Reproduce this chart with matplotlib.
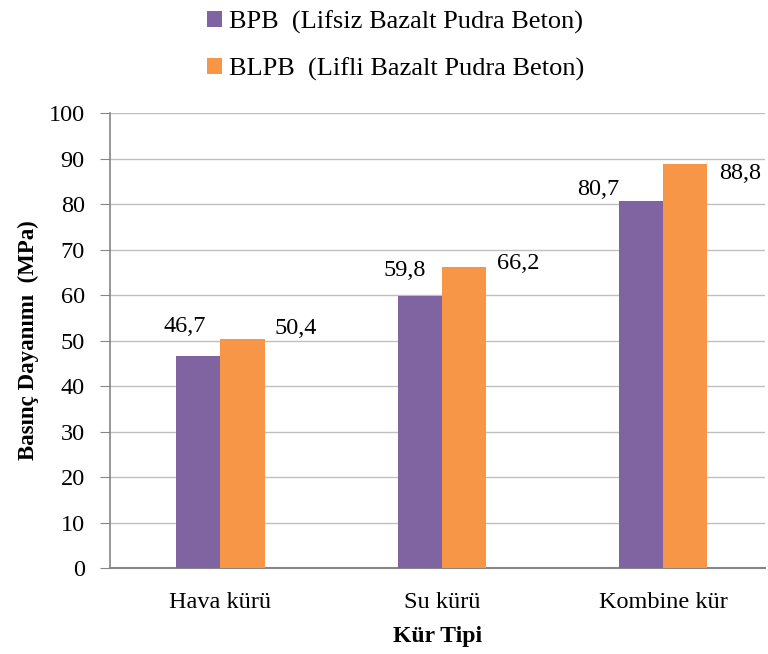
import numpy as np
import matplotlib.pyplot as plt

plt.rcParams['font.family'] = ['Liberation Serif', 'DejaVu Serif']

categories = ['Hava kürü', 'Su kürü', 'Kombine kür']
bpb = [46.7, 59.8, 80.7]
blpb = [50.4, 66.2, 88.8]
series_names = ['BPB  (Lifsiz Bazalt Pudra Beton)', 'BLPB  (Lifli Bazalt Pudra Beton)']

# label nudges in pixels (dx, dy), like the hand placed labels of the original
bpb_label_shift = [(-14, 29), (-15, 25), (-43, 11)]
blpb_label_shift = [(10, 10), (11, 3), (12, -9)]

purple = '#8064A2'
orange = '#F79646'

fig = plt.figure(figsize=(7.68, 6.54), dpi=100)
ax = fig.add_axes([0.143, 0.1315, 0.853, 0.6955])

x = np.arange(len(categories))
w = 0.2
b1 = ax.bar(x - w / 2, bpb, w, color=purple, label=series_names[0], zorder=3)
b2 = ax.bar(x + w / 2, blpb, w, color=orange, label=series_names[1], zorder=3)

px = 72 / fig.dpi
for xi, v, (dx, dy) in zip(x, bpb, bpb_label_shift):
    ax.annotate(f'{v:.1f}'.replace('.', ','), (xi - w / 2, v), xytext=(dx * px, dy * px),
                textcoords='offset points', ha='center', va='center', fontsize=17.5)
for xi, v, (dx, dy) in zip(x, blpb, blpb_label_shift):
    ax.annotate(f'{v:.1f}'.replace('.', ','), (xi + w, v), xytext=(dx * px, dy * px),
                textcoords='offset points', ha='left', va='center', fontsize=17.5)

ax.set_ylim(0, 100)
ax.set_yticks(np.arange(0, 101, 10))
ax.set_xlim(-0.5, 2.46)
ax.set_xticks(x)
ax.set_xticklabels(categories, fontsize=17.5)
ax.tick_params(axis='y', labelsize=17.5, length=7, color='#868686', pad=11)
ax.tick_params(axis='x', length=0, pad=17)

ax.grid(axis='y', color='#BFBFBF', linewidth=1, zorder=0)
for s in ['top', 'right']:
    ax.spines[s].set_visible(False)
ax.spines['left'].set_color('#868686')
ax.spines['bottom'].set_color('#868686')
ax.spines['left'].set_linewidth(1.2)
ax.spines['bottom'].set_linewidth(1.5)

ax.set_ylabel('Basınç Dayanımı  (MPa)', fontsize=16.5, fontweight='bold', labelpad=7)
ax.set_xlabel('Kür Tipi', fontsize=17, fontweight='bold', labelpad=10)

fig.legend(handles=[b1, b2], loc='upper left', bbox_to_anchor=(0.2695, 0.984),
           frameon=False, fontsize=19, handlelength=0.57, handleheight=0.57,
           handletextpad=0.25, labelspacing=0.89, borderpad=0, borderaxespad=0)

fig.savefig('out.png', dpi=100)
